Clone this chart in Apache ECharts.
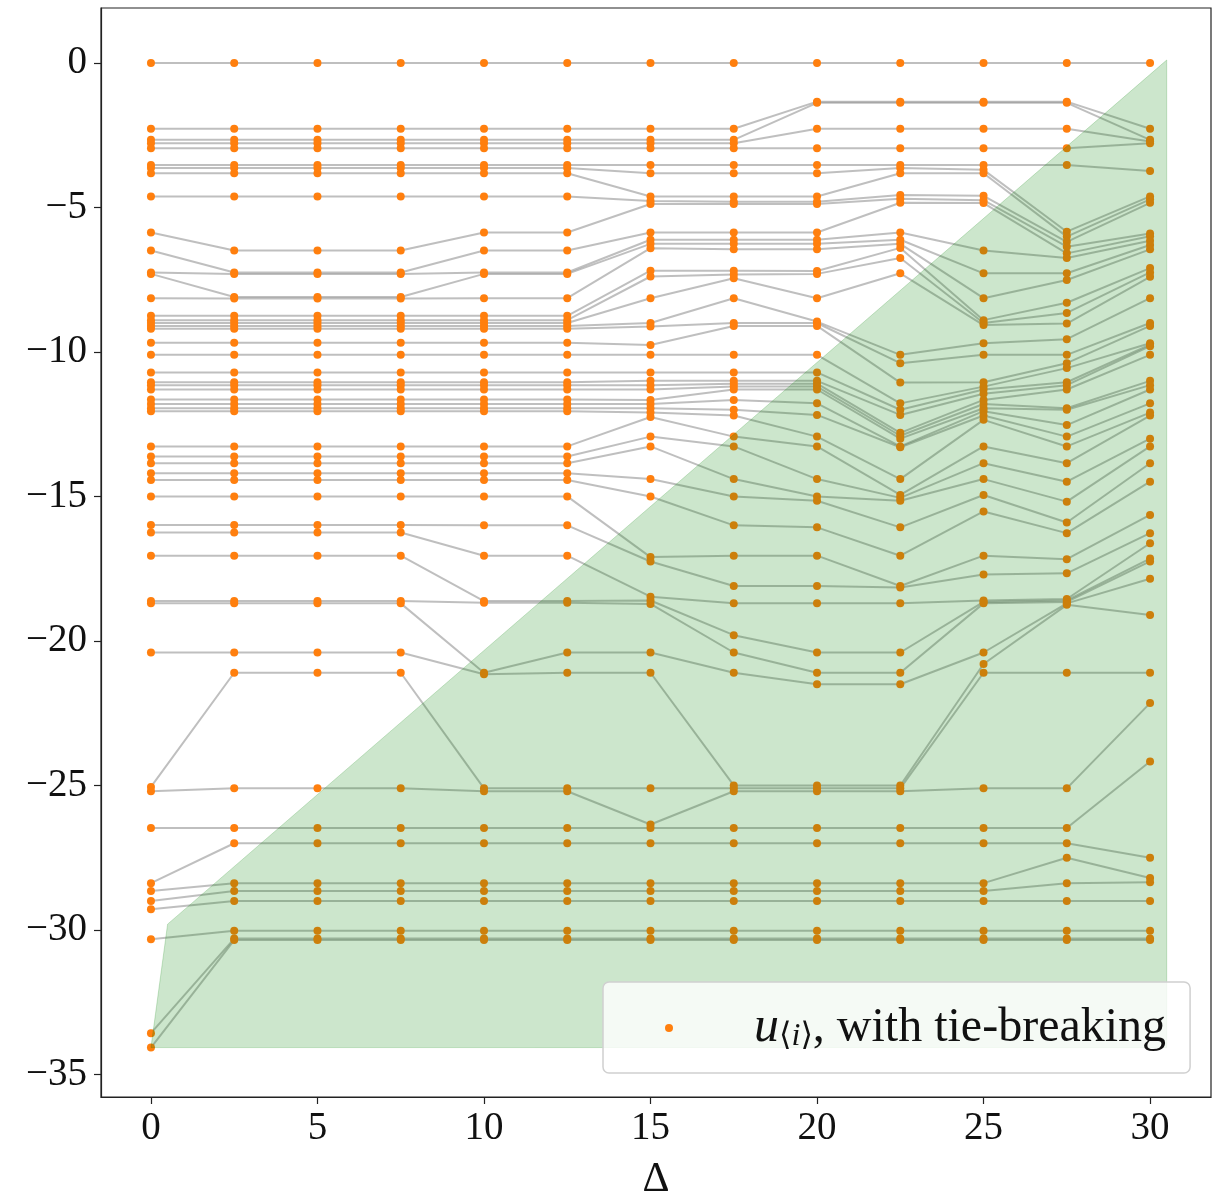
<!DOCTYPE html>
<html>
<head>
<meta charset="utf-8">
<script src="https://cdn.jsdelivr.net/npm/echarts@6/dist/echarts.min.js"></script>
<style>
html,body{margin:0;padding:0;background:#fff;}
#chart{width:1213px;height:1195px;}
</style>
</head>
<body>
<div id="chart"></div>
<script>
// x positions (Delta)
var deltas = [0, 2.5, 5, 7.5, 10, 12.5, 15, 17.5, 20, 22.5, 25, 27.5, 30];

// sorted u values for each Delta, rank k of every column is joined by a grey line
var u00 = [0, -2.28, -2.66, -2.78, -2.95, -3.53, -3.64, -3.82, -4.62, -5.87, -6.49, -7.25, -7.3, -8.14, -8.75, -8.9, -9.0, -9.1, -9.2, -9.68, -10.1, -10.71, -11.05, -11.15, -11.3, -11.65, -11.8, -11.95, -12.05, -13.27, -13.62, -13.85, -14.2, -14.43, -15.0, -15.99, -16.25, -17.05, -18.62, -18.7, -20.4, -25.05, -25.2, -26.47, -28.38, -28.65, -29.0, -29.28, -30.32, -33.57, -34.07];
var u25 = [0, -2.28, -2.66, -2.78, -2.95, -3.53, -3.64, -3.82, -4.62, -6.49, -7.25, -7.3, -8.1, -8.15, -8.75, -8.9, -9.0, -9.1, -9.2, -9.68, -10.1, -10.71, -11.05, -11.15, -11.3, -11.65, -11.8, -11.95, -12.05, -13.27, -13.62, -13.85, -14.2, -14.43, -15.0, -15.99, -16.25, -17.05, -18.62, -18.7, -20.4, -21.1, -25.1, -26.47, -27.0, -28.38, -28.65, -29.0, -30.03, -30.3, -30.35];
var u50 = [0, -2.28, -2.66, -2.78, -2.95, -3.53, -3.64, -3.82, -4.62, -6.49, -7.25, -7.3, -8.1, -8.15, -8.75, -8.9, -9.0, -9.1, -9.2, -9.68, -10.1, -10.71, -11.05, -11.15, -11.3, -11.65, -11.8, -11.95, -12.05, -13.27, -13.62, -13.85, -14.2, -14.43, -15.0, -15.99, -16.25, -17.05, -18.62, -18.7, -20.4, -21.1, -25.1, -26.47, -27.0, -28.38, -28.65, -29.0, -30.03, -30.3, -30.35];
var u75 = [0, -2.28, -2.66, -2.78, -2.95, -3.53, -3.64, -3.82, -4.62, -6.49, -7.25, -7.3, -8.1, -8.15, -8.75, -8.9, -9.0, -9.1, -9.2, -9.68, -10.1, -10.71, -11.05, -11.15, -11.3, -11.65, -11.8, -11.95, -12.05, -13.27, -13.62, -13.85, -14.2, -14.43, -15.0, -15.99, -16.25, -17.05, -18.62, -18.7, -20.4, -21.1, -25.1, -26.47, -27.0, -28.38, -28.65, -29.0, -30.03, -30.3, -30.35];
var u100 = [0, -2.28, -2.66, -2.78, -2.95, -3.53, -3.64, -3.82, -4.62, -5.87, -6.49, -7.25, -7.3, -8.14, -8.75, -8.9, -9.0, -9.1, -9.2, -9.68, -10.1, -10.71, -11.05, -11.15, -11.3, -11.65, -11.8, -11.95, -12.05, -13.27, -13.62, -13.85, -14.2, -14.43, -15.0, -16.0, -17.05, -18.62, -18.68, -21.1, -21.15, -25.1, -25.2, -26.47, -27.0, -28.38, -28.65, -29.0, -30.03, -30.3, -30.35];
var u125 = [0, -2.28, -2.66, -2.78, -2.95, -3.53, -3.64, -3.82, -4.62, -5.87, -6.49, -7.25, -7.3, -8.14, -8.75, -8.9, -9.0, -9.1, -9.2, -9.68, -10.1, -10.71, -11.05, -11.15, -11.3, -11.65, -11.8, -11.95, -12.05, -13.27, -13.62, -13.85, -14.2, -14.43, -15.0, -16.0, -17.05, -18.62, -18.68, -20.4, -21.1, -25.1, -25.2, -26.47, -27.0, -28.38, -28.65, -29.0, -30.03, -30.3, -30.35];
var u150 = [0, -2.28, -2.66, -2.78, -2.95, -3.53, -3.82, -4.62, -4.78, -4.88, -5.87, -6.12, -6.26, -6.41, -7.19, -7.39, -8.14, -9.0, -9.12, -9.76, -10.1, -10.71, -11.0, -11.15, -11.3, -11.66, -11.8, -11.95, -12.1, -12.25, -12.93, -13.27, -14.4, -15.0, -17.1, -17.25, -18.47, -18.6, -18.72, -20.4, -21.1, -25.1, -26.35, -26.47, -27.0, -28.38, -28.65, -29.0, -30.03, -30.3, -30.35];
var u175 = [0, -2.28, -2.66, -2.78, -2.95, -3.53, -3.82, -4.62, -4.8, -4.88, -5.87, -6.12, -6.26, -6.45, -7.19, -7.32, -7.45, -8.14, -9.0, -9.1, -10.1, -10.71, -11.0, -11.1, -11.2, -11.3, -11.66, -12.0, -12.2, -12.93, -13.27, -14.4, -15.0, -16.0, -17.05, -18.1, -18.7, -19.8, -20.4, -21.1, -25.0, -25.1, -25.2, -26.47, -27.0, -28.38, -28.65, -29.0, -30.03, -30.3, -30.35];
var u200 = [0, -1.34, -1.38, -2.28, -2.95, -3.53, -3.82, -4.62, -4.8, -4.88, -5.87, -6.12, -6.26, -6.45, -7.2, -7.3, -8.14, -8.95, -9.0, -9.1, -10.1, -10.71, -11.0, -11.1, -11.2, -11.3, -11.78, -12.18, -12.93, -13.27, -14.4, -15.0, -15.15, -16.07, -17.05, -18.1, -18.7, -20.4, -21.1, -21.5, -25.0, -25.1, -25.2, -26.47, -27.0, -28.38, -28.65, -29.0, -30.03, -30.3, -30.35];
var u225 = [0, -1.34, -1.38, -2.28, -2.95, -3.53, -3.64, -3.82, -4.57, -4.7, -4.84, -5.87, -6.12, -6.26, -6.4, -6.75, -7.28, -10.1, -10.39, -11.06, -11.78, -12.0, -12.18, -12.8, -12.9, -13.0, -13.27, -13.3, -14.4, -14.95, -15.05, -15.15, -16.07, -17.05, -18.1, -18.15, -18.7, -20.4, -21.1, -21.5, -25.0, -25.1, -25.2, -26.47, -27.0, -28.38, -28.65, -29.0, -30.03, -30.3, -30.35];
var u250 = [0, -1.34, -1.38, -2.28, -2.95, -3.53, -3.7, -3.82, -4.6, -4.75, -4.85, -6.49, -7.28, -8.14, -8.9, -9.0, -9.07, -9.7, -10.1, -11.05, -11.2, -11.3, -11.45, -11.66, -11.8, -11.95, -12.05, -12.2, -12.35, -13.27, -13.85, -14.4, -14.95, -15.52, -17.05, -17.7, -18.6, -18.65, -18.7, -20.4, -20.8, -21.1, -25.1, -26.47, -27.0, -28.38, -28.65, -29.0, -30.03, -30.3, -30.35];
var u275 = [0, -1.34, -1.38, -2.28, -2.95, -3.53, -5.84, -6.01, -6.19, -6.36, -6.59, -6.75, -7.28, -7.51, -8.3, -8.65, -9.02, -9.56, -10.1, -10.39, -10.56, -11.05, -11.15, -11.3, -11.95, -12.0, -12.53, -12.93, -13.27, -13.85, -14.49, -15.18, -15.9, -16.27, -17.17, -17.66, -18.55, -18.6, -18.65, -18.7, -18.75, -21.1, -25.1, -26.47, -27.0, -27.5, -28.38, -29.0, -30.03, -30.3, -30.35];
var u300 = [0, -2.28, -2.66, -2.72, -2.78, -3.74, -4.62, -4.72, -4.84, -5.9, -6.0, -6.15, -6.3, -6.45, -7.1, -7.25, -7.4, -8.14, -9.0, -9.1, -9.7, -9.75, -9.8, -10.1, -11.0, -11.15, -11.3, -11.78, -12.1, -12.2, -13.0, -13.27, -13.85, -14.49, -15.64, -16.27, -16.62, -17.15, -17.25, -17.85, -19.1, -21.1, -22.15, -24.17, -27.5, -28.2, -28.35, -29.0, -30.03, -30.3, -30.35];

// shaded region outline
var fillX = [0, 0.5, 30.5, 30.5];
var fillY = [-34.07, -29.8, 0.1, -34.07];

var xTicks = [0, 5, 10, 15, 20, 25, 30];
var yTicks = [0, -5, -10, -15, -20, -25, -30, -35];

var columns = [u00, u25, u50, u75, u100, u125, u150, u175, u200, u225, u250, u275, u300];
var serif = '"Liberation Serif", "DejaVu Serif", serif';

var chart = echarts.init(document.getElementById('chart'));

var series = [];
for (var k = 0; k < u00.length; k++) {
	var d = [];
	for (var c = 0; c < deltas.length; c++) {
		d.push([deltas[c], columns[c][k]]);
	}
	series.push({
		type: 'line',
		data: d,
		symbol: 'none',
		silent: true,
		z: 1,
		lineStyle: { color: 'rgba(128,128,128,0.5)', width: 2 }
	});
}

var pts = [];
for (var c = 0; c < deltas.length; c++) {
	for (var k = 0; k < columns[c].length; k++) {
		pts.push([deltas[c], columns[c][k]]);
	}
}
series.push({
	name: 'u',
	type: 'scatter',
	data: pts,
	symbolSize: 8,
	z: 2,
	itemStyle: { color: '#ff7f0e', opacity: 1 }
});

series.push({
	type: 'custom',
	silent: true,
	z: 3,
	data: [[0, 0]],
	renderItem: function (params, api) {
		var poly = [];
		for (var i = 0; i < fillX.length; i++) {
			poly.push(api.coord([fillX[i], fillY[i]]));
		}
		return {
			type: 'polygon',
			shape: { points: poly },
			style: { fill: 'rgba(0,128,0,0.2)', stroke: 'rgba(0,128,0,0.2)', lineWidth: 1 }
		};
	}
});

function minusFmt(v) {
	return v < 0 ? '\u2212' + Math.abs(v) : String(v);
}

var option = {
	animation: false,
	backgroundColor: '#fff',
	grid: {
		left: 101, right: 2, top: 8, bottom: 98,
		outerBoundsMode: 'none',
		show: true, borderColor: '#222', borderWidth: 1.2, backgroundColor: 'transparent'
	},
	legend: {
		data: [{ name: 'u', icon: 'circle' }],
		left: 603,
		top: 982,
		itemWidth: 8,
		itemHeight: 8,
		padding: [21, 24, 20, 62],
		backgroundColor: 'rgba(255,255,255,0.8)',
		borderColor: '#d0d0d0',
		borderWidth: 1.5,
		borderRadius: 6,
		formatter: function () {
			return '{sp| }{it|u}{sub|\u27e8}{subi|i}{sub|\u27e9}{t|, with tie-breaking}';
		},
		textStyle: {
			fontFamily: serif,
			fontSize: 48,
			color: '#111',
			rich: {
				sp: { width: 76 },
				it: { fontFamily: serif, fontStyle: 'italic', fontSize: 50, color: '#111' },
				sub: { fontFamily: serif, fontSize: 32, color: '#111', padding: [18, 0, 0, 0] },
				subi: { fontFamily: serif, fontStyle: 'italic', fontSize: 32, color: '#111', padding: [18, 0, 0, 0] },
				t: { fontFamily: serif, fontSize: 48, color: '#111' }
			}
		}
	},
	xAxis: {
		type: 'value',
		min: -1.5,
		max: 31.83,
		name: '\u0394',
		nameLocation: 'middle',
		nameGap: 62,
		nameTextStyle: { fontFamily: serif, fontSize: 42, color: '#111' },
		axisLine: { show: true, onZero: false, lineStyle: { color: '#222', width: 1.2 } },
		axisTick: { show: true, length: 7, customValues: xTicks, lineStyle: { color: '#222', width: 1.2 } },
		axisLabel: { customValues: xTicks, margin: 12, fontFamily: serif, fontSize: 39, color: '#111', formatter: minusFmt },
		splitLine: { show: false }
	},
	yAxis: {
		type: 'value',
		min: -35.78,
		max: 1.9,
		axisLine: { show: true, onZero: false, lineStyle: { color: '#222', width: 1.2 } },
		axisTick: { show: true, length: 7, customValues: yTicks, lineStyle: { color: '#222', width: 1.2 } },
		axisLabel: { customValues: yTicks, margin: 14, fontFamily: serif, fontSize: 39, color: '#111', formatter: minusFmt },
		splitLine: { show: false }
	},
	series: series
};
chart.setOption(option);
</script>
</body>
</html>
